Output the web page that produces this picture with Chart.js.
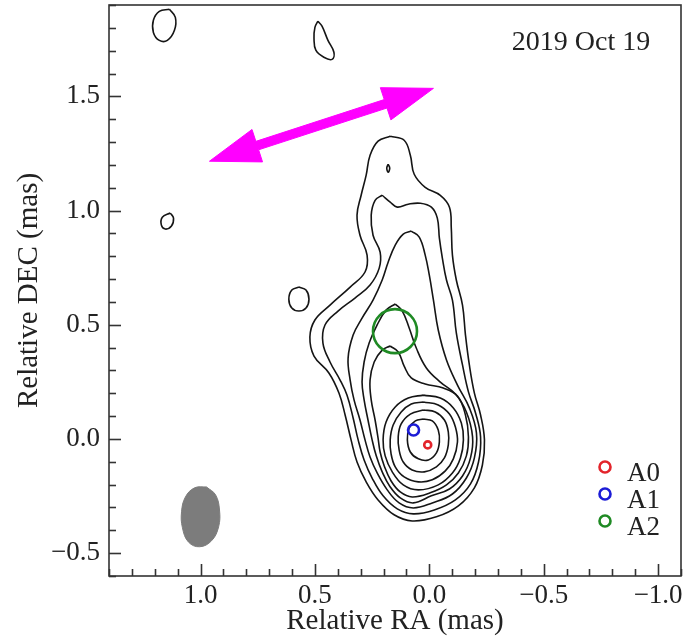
<!DOCTYPE html>
<html><head><meta charset="utf-8">
<script src="https://cdn.jsdelivr.net/npm/chart.js@4.4.0/dist/chart.umd.min.js"></script>
<style>html,body{margin:0;padding:0;background:#fff}#wrap{width:688px;height:639px}</style>
</head><body><div id="wrap"><canvas id="c" width="688" height="639"></canvas></div>
<script>
// ---- axes ----
const xRange = [-1.1, 1.4];          // RA shown reversed (east left)
const yRange = [-0.6, 1.9];
const xTickValues = [1.0, 0.5, 0.0, -0.5, -1.0];
const yTickValues = [1.5, 1.0, 0.5, 0.0, -0.5];
const minorStep = 0.1;
const majorStep = 0.5;
const xTitle = 'Relative RA (mas)';
const yTitle = 'Relative DEC (mas)';
const epochLabel = '2019 Oct 19';

// ---- contours (RA, DEC in mas), outermost to innermost ----
const contour1 = [[0.171,1.325],[0.110,1.308],[0.083,1.242],[0.066,1.159],[0.018,1.102],[-0.048,1.067],[-0.088,1.015],[-0.096,0.923],[-0.101,0.805],[-0.118,0.696],[-0.145,0.586],[-0.158,0.455],[-0.175,0.324],[-0.197,0.201],[-0.224,0.105],[-0.241,-0.004],[-0.232,-0.114],[-0.197,-0.214],[-0.127,-0.293],[-0.031,-0.341],[0.075,-0.359],[0.154,-0.332],[0.224,-0.267],[0.276,-0.188],[0.316,-0.101],[0.342,-0.004],[0.368,0.105],[0.395,0.201],[0.439,0.289],[0.504,0.363],[0.522,0.446],[0.500,0.521],[0.434,0.586],[0.346,0.665],[0.281,0.731],[0.272,0.805],[0.303,0.892],[0.316,0.980],[0.298,1.067],[0.276,1.155],[0.259,1.242],[0.224,1.304],[0.171,1.325]];
const contour2 = [[0.206,1.067],[0.171,1.037],[0.140,1.015],[0.092,1.028],[0.039,1.032],[-0.009,1.015],[-0.035,0.967],[-0.044,0.879],[-0.057,0.792],[-0.075,0.696],[-0.101,0.608],[-0.118,0.464],[-0.145,0.324],[-0.171,0.206],[-0.202,0.114],[-0.224,0.009],[-0.215,-0.101],[-0.180,-0.197],[-0.114,-0.267],[-0.022,-0.311],[0.070,-0.328],[0.140,-0.306],[0.202,-0.249],[0.250,-0.171],[0.285,-0.092],[0.311,-0.004],[0.333,0.092],[0.360,0.192],[0.390,0.258],[0.434,0.337],[0.465,0.420],[0.456,0.499],[0.399,0.560],[0.325,0.617],[0.259,0.674],[0.219,0.748],[0.215,0.818],[0.246,0.892],[0.254,0.980],[0.237,1.045],[0.206,1.067]];
const contour3 = [[0.079,0.910],[0.044,0.884],[0.018,0.805],[0.000,0.717],[-0.018,0.608],[-0.039,0.477],[-0.075,0.346],[-0.123,0.236],[-0.175,0.136],[-0.206,0.026],[-0.197,-0.083],[-0.162,-0.171],[-0.101,-0.241],[-0.013,-0.280],[0.070,-0.302],[0.132,-0.280],[0.184,-0.223],[0.228,-0.149],[0.259,-0.079],[0.281,-0.004],[0.303,0.083],[0.329,0.171],[0.346,0.258],[0.355,0.354],[0.333,0.455],[0.294,0.529],[0.246,0.608],[0.206,0.696],[0.180,0.774],[0.149,0.849],[0.114,0.897],[0.079,0.910]];
const contour4 = [[0.149,0.591],[0.118,0.560],[0.088,0.486],[0.057,0.398],[0.013,0.311],[-0.048,0.249],[-0.114,0.197],[-0.162,0.118],[-0.189,0.009],[-0.180,-0.083],[-0.145,-0.162],[-0.088,-0.219],[-0.009,-0.249],[0.070,-0.280],[0.127,-0.258],[0.171,-0.210],[0.206,-0.144],[0.232,-0.074],[0.250,-0.004],[0.268,0.083],[0.285,0.171],[0.294,0.249],[0.285,0.337],[0.263,0.420],[0.228,0.499],[0.189,0.564],[0.149,0.591]];
const contour5 = [[0.171,0.407],[0.136,0.381],[0.110,0.319],[0.079,0.267],[0.018,0.241],[-0.061,0.223],[-0.123,0.188],[-0.158,0.105],[-0.171,0.009],[-0.162,-0.074],[-0.127,-0.149],[-0.075,-0.201],[-0.004,-0.236],[0.075,-0.254],[0.127,-0.232],[0.167,-0.184],[0.197,-0.118],[0.215,-0.057],[0.224,0.004],[0.237,0.083],[0.254,0.171],[0.259,0.258],[0.241,0.337],[0.206,0.389],[0.171,0.407]];
const contour6 = [[0.026,0.192],[-0.048,0.179],[-0.105,0.136],[-0.140,0.070],[-0.149,-0.004],[-0.136,-0.083],[-0.101,-0.149],[-0.039,-0.201],[0.048,-0.223],[0.114,-0.201],[0.162,-0.144],[0.193,-0.074],[0.202,-0.004],[0.189,0.074],[0.149,0.140],[0.092,0.179],[0.026,0.192]];
const contour7 = [[0.026,0.162],[-0.039,0.149],[-0.088,0.109],[-0.114,0.052],[-0.123,-0.013],[-0.105,-0.087],[-0.070,-0.140],[-0.013,-0.179],[0.048,-0.188],[0.110,-0.166],[0.149,-0.122],[0.167,-0.066],[0.171,-0.004],[0.158,0.061],[0.123,0.118],[0.079,0.153],[0.026,0.162]];
const contour8 = [[0.026,0.127],[-0.026,0.118],[-0.066,0.083],[-0.083,0.031],[-0.083,-0.026],[-0.066,-0.083],[-0.031,-0.122],[0.022,-0.144],[0.075,-0.136],[0.114,-0.101],[0.132,-0.048],[0.136,0.009],[0.123,0.066],[0.083,0.109],[0.026,0.127]];
const contour9 = [[0.026,0.087],[-0.013,0.079],[-0.039,0.039],[-0.044,-0.013],[-0.031,-0.061],[0.004,-0.092],[0.048,-0.087],[0.083,-0.057],[0.096,-0.004],[0.088,0.048],[0.061,0.079],[0.026,0.087]];
// isolated lowest-level islands
const island1 = [[1.136,1.881],[1.110,1.846],[1.114,1.789],[1.145,1.745],[1.180,1.745],[1.206,1.780],[1.206,1.833],[1.180,1.872],[1.136,1.881]];
const island2 = [[0.487,1.829],[0.469,1.807],[0.443,1.745],[0.417,1.693],[0.425,1.662],[0.461,1.671],[0.496,1.702],[0.504,1.754],[0.500,1.802],[0.487,1.829]];
const island3 = [[1.132,0.989],[1.118,0.967],[1.127,0.932],[1.154,0.919],[1.171,0.936],[1.167,0.971],[1.132,0.989]];
const island4 = [[0.570,0.665],[0.539,0.652],[0.526,0.612],[0.539,0.573],[0.570,0.560],[0.601,0.573],[0.614,0.612],[0.601,0.652],[0.570,0.665]];
const island5 = [[0.180,1.203],[0.173,1.185],[0.180,1.168],[0.186,1.185],[0.180,1.203]];
// restoring beam
const beam = [[0.974,-0.210],[0.934,-0.245],[0.917,-0.311],[0.921,-0.385],[0.952,-0.446],[1.004,-0.472],[1.053,-0.451],[1.079,-0.389],[1.083,-0.319],[1.066,-0.254],[1.026,-0.214],[0.974,-0.210]];
// double-headed arrow outline
const arrow = [[-0.018,1.535],[0.168,1.397],[0.185,1.449],[0.746,1.266],[0.729,1.213],[0.961,1.216],[0.775,1.355],[0.758,1.303],[0.197,1.486],[0.214,1.538],[-0.018,1.535]];
// components
const compLabels = ['A0', 'A1', 'A2'];
const compRA = [0.007, 0.069, 0.150];
const compDEC = [-0.026, 0.039, 0.472];
const compSizePx = [3.5, 5.5, 22];
const compColors = ['#e3242b', '#1c1cd6', '#1f8a24'];

const SERIF = '"Liberation Serif", "DejaVu Serif", serif';
const toPts = a => a.map(p => ({x: p[0], y: p[1]}));

const datasets = [];
compLabels.forEach((lab, i) => {
  datasets.push({label: lab, data: [{x: compRA[i], y: compDEC[i]}], showLine: false,
    pointRadius: compSizePx[i], pointHoverRadius: compSizePx[i], pointBorderWidth: 2.6,
    pointBackgroundColor: 'rgba(0,0,0,0)', pointBorderColor: compColors[i], borderColor: compColors[i]});
});
[contour1, contour2, contour3, contour4, contour5, contour6, contour7, contour8, contour9,
 island1, island2, island3, island4, island5].forEach((c, i) => {
  datasets.push({label: 'c' + i, data: toPts(c), showLine: true, pointRadius: 0,
    borderColor: '#151515', borderWidth: 1.6, tension: 0.4, fill: false});
});
datasets.push({label: 'beam', data: toPts(beam), showLine: true, pointRadius: 0, tension: 0.4,
  borderColor: '#7c7c7c', backgroundColor: '#7c7c7c', borderWidth: 1, fill: 'shape'});
datasets.push({label: 'arrow', data: toPts(arrow), showLine: true, pointRadius: 0, tension: 0,
  borderColor: '#ff00ff', backgroundColor: '#ff00ff', borderWidth: 1, fill: 'shape'});

const fmt = v => (v < 0 ? '\u2212' : '') + Math.abs(v).toFixed(1);

const decorPlugin = {
  id: 'decor',
  afterDraw(chart) {
    const {ctx, chartArea: a, scales: {x, y}} = chart;
    ctx.save();
    ctx.strokeStyle = '#333';
    ctx.lineWidth = 1.6;
    // inward ticks
    const isMajor = v => Math.abs(v / majorStep - Math.round(v / majorStep)) < 1e-6;
    for (let i = Math.ceil(xRange[0] / minorStep - 1e-9); i <= Math.floor(xRange[1] / minorStep + 1e-9); i++) {
      const v = i * minorStep, px = Math.round(x.getPixelForValue(v)) + 0.5, len = isMajor(v) ? 12 : 7;
      ctx.beginPath(); ctx.moveTo(px, a.bottom); ctx.lineTo(px, a.bottom - len); ctx.stroke();
    }
    for (let i = Math.ceil(yRange[0] / minorStep - 1e-9); i <= Math.floor(yRange[1] / minorStep + 1e-9); i++) {
      const v = i * minorStep, py = Math.round(y.getPixelForValue(v)) + 0.5, len = isMajor(v) ? 12 : 7;
      ctx.beginPath(); ctx.moveTo(a.left, py); ctx.lineTo(a.left + len, py); ctx.stroke();
    }
    ctx.strokeRect(a.left, a.top, a.right - a.left, a.bottom - a.top);
    // epoch label
    ctx.fillStyle = '#222';
    ctx.font = '28px ' + SERIF;
    ctx.textAlign = 'center'; ctx.textBaseline = 'middle';
    ctx.fillText(epochLabel, a.right - 100, a.top + 38);
    // legend
    ctx.font = '27px ' + SERIF;
    ctx.textAlign = 'left';
    compLabels.forEach((lab, i) => {
      const cy = a.bottom - 109 + i * 27;
      ctx.beginPath(); ctx.arc(a.right - 76, cy, 5.5, 0, Math.PI * 2);
      ctx.strokeStyle = compColors[i]; ctx.lineWidth = 2.6; ctx.stroke();
      ctx.fillStyle = '#222';
      ctx.fillText(lab, a.right - 54, cy + 7);
    });
    ctx.restore();
  }
};

new Chart(document.getElementById('c'), {
  type: 'scatter',
  data: {datasets},
  options: {
    responsive: false, animation: false, devicePixelRatio: 1,
    layout: {autoPadding: false, padding: {top: 5, right: 7, left: 0, bottom: 0}},
    plugins: {legend: {display: false}, tooltip: {enabled: false}},
    scales: {
      x: {type: 'linear', reverse: true, min: xRange[0], max: xRange[1],
        grid: {display: false, drawTicks: false}, border: {display: false},
        afterBuildTicks: s => { s.ticks = xTickValues.map(v => ({value: v})); },
        afterFit: s => { s.height = 63; s.paddingLeft = 0; s.paddingRight = 0; },
        ticks: {autoSkip: false, maxRotation: 0, padding: 4, color: '#222',
          font: {family: SERIF, size: 27}, callback: v => fmt(v)},
        title: {display: true, text: xTitle, color: '#222', font: {family: SERIF, size: 29}, padding: {top: 0, bottom: 0}}
      },
      y: {type: 'linear', min: yRange[0], max: yRange[1],
        grid: {display: false, drawTicks: false}, border: {display: false},
        afterBuildTicks: s => { s.ticks = yTickValues.map(v => ({value: v})); },
        afterFit: s => { s.width = 109; s.paddingTop = 0; s.paddingBottom = 0; },
        ticks: {autoSkip: false, padding: 9, color: '#222',
          font: {family: SERIF, size: 27}, callback: v => fmt(v)},
        title: {display: true, text: yTitle, color: '#222', font: {family: SERIF, size: 29}, padding: {top: 12, bottom: 0}}
      }
    }
  },
  plugins: [decorPlugin]
});
</script></body></html>
